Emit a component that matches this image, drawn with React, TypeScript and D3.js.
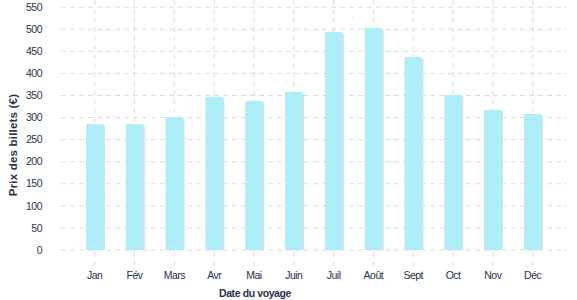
import React from "react";
import * as d3 from "d3";

const months = ["Jan", "Fév", "Mars", "Avr", "Mai", "Juin", "Juil", "Août", "Sept", "Oct", "Nov", "Déc"];
const prices = [285, 285, 301, 347, 338, 358, 494, 503, 437, 351, 317, 308];
const yTicks = [0, 50, 100, 150, 200, 250, 300, 350, 400, 450, 500, 550];

const W = 577;
const H = 300;

export default function App() {
  const x = d3.scaleBand<string>().domain(months).range([74.8, 552.6]).paddingInner(0.56).paddingOuter(0.28);
  const y = d3.scaleLinear().domain([0, 550]).range([250, 7.2]);
  const font = "'Liberation Sans', Arial, sans-serif";
  const textColor = "#27314d";
  return (
    <svg width={W} height={H} style={{ position: "absolute", left: 0, top: 0 }}>
      <rect width={W} height={H} fill="#fff" />
      {months.map((m) => (
        <line key={"v" + m} x1={x(m)! + x.bandwidth() / 2} x2={x(m)! + x.bandwidth() / 2} y1={0} y2={268}
          stroke="#dcdcdc" strokeWidth={1} strokeDasharray="5,4" />
      ))}
      {yTicks.map((t) => (
        <line key={"h" + t} x1={61} x2={567} y1={y(t)} y2={y(t)} stroke="#dcdcdc" strokeWidth={1} strokeDasharray="5,4" />
      ))}
      {months.map((m, i) => (
        <g key={"b" + m}>
          <rect x={x(m)! + 1.5} y={y(prices[i]) + 1.5} width={x.bandwidth()} height={250 - y(prices[i]) - 1.5} fill="#dedede" />
          <rect x={x(m)!} y={y(prices[i])} width={x.bandwidth()} height={250 - y(prices[i])} fill="#adeef9" />
        </g>
      ))}
      {yTicks.map((t) => (
        <text key={"yt" + t} x={42} y={y(t)} dy="0.35em" textAnchor="end" fontFamily={font} fontSize={10.5}
          letterSpacing={-0.5} fill={textColor}>{t}</text>
      ))}
      {months.map((m) => (
        <text key={"xt" + m} x={x(m)! + x.bandwidth() / 2} y={279} textAnchor="middle" fontFamily={font} fontSize={10.5}
          letterSpacing={-0.5} fill={textColor}>{m}</text>
      ))}
      <text x={255} y={297} textAnchor="middle" fontFamily={font} fontSize={10.5} fontWeight="bold" letterSpacing={-0.4} fill={textColor}>Date du voyage</text>
      <text transform="translate(17,145) rotate(-90)" textAnchor="middle" fontFamily={font} fontSize={11.5} fontWeight="bold" letterSpacing={0.2} fill={textColor}>Prix des billets (€)</text>
    </svg>
  );
}
